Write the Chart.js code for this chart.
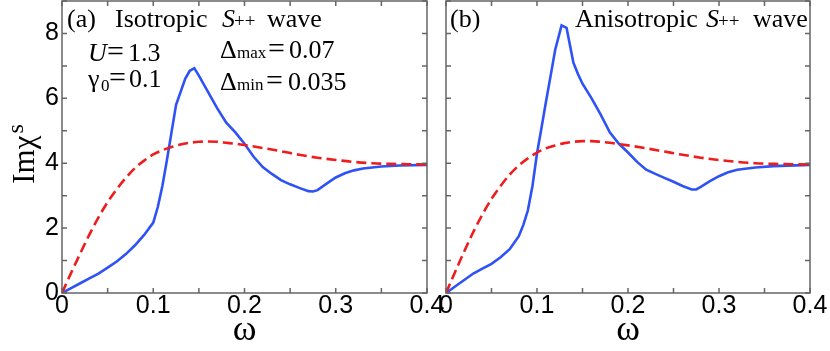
<!DOCTYPE html>
<html>
<head>
<meta charset="utf-8">
<script src="https://cdn.jsdelivr.net/npm/chart.js@4.4.0/dist/chart.umd.min.js"></script>
<style>
html, body { margin: 0; padding: 0; background: #fff; }
#wrap { position: relative; width: 830px; height: 351px; overflow: hidden; }
#chartA { position: absolute; left: 0; top: 0; }
#chartB { position: absolute; left: 430px; top: 0; }
</style>
</head>
<body>
<div id="wrap">
  <canvas id="chartA" width="445" height="351"></canvas>
  <canvas id="chartB" width="400" height="351"></canvas>
</div>
<script>
// axis ticks
const xTickValues = [0, 0.05, 0.1, 0.15, 0.2, 0.25, 0.3, 0.35, 0.4];
const xTickLabels = ['0', '', '0.1', '', '0.2', '', '0.3', '', '0.4'];
const yTickValues = [0, 1, 2, 3, 4, 5, 6, 7, 8, 9];
const yTickLabels = ['0', '', '2', '', '4', '', '6', '', '8', ''];

// (a) isotropic: blue solid
const omegaBlueA = [0, 0.01, 0.02, 0.03, 0.04, 0.05, 0.06, 0.07, 0.08, 0.09, 0.1, 0.105, 0.11, 0.115, 0.12, 0.125, 0.13, 0.135, 0.14, 0.145, 0.15, 0.16, 0.17, 0.18, 0.19, 0.2, 0.21, 0.22, 0.23, 0.24, 0.25, 0.26, 0.27, 0.275, 0.28, 0.29, 0.3, 0.31, 0.32, 0.33, 0.35, 0.37, 0.4];
const chiBlueA = [0, 0.15, 0.3, 0.45, 0.6, 0.78, 0.97, 1.2, 1.47, 1.79, 2.17, 2.65, 3.3, 4.1, 4.95, 5.8, 6.2, 6.6, 6.85, 6.93, 6.7, 6.2, 5.7, 5.25, 4.95, 4.6, 4.2, 3.88, 3.67, 3.48, 3.35, 3.24, 3.14, 3.13, 3.17, 3.37, 3.56, 3.69, 3.78, 3.84, 3.9, 3.93, 3.95];
// (a) red dashed
const omegaRedA = [0, 0.01, 0.02, 0.03, 0.04, 0.05, 0.06, 0.07, 0.08, 0.09, 0.1, 0.11, 0.12, 0.13, 0.14, 0.15, 0.16, 0.17, 0.18, 0.19, 0.2, 0.22, 0.24, 0.26, 0.28, 0.3, 0.32, 0.34, 0.36, 0.38, 0.4];
const chiRedA = [0, 0.62, 1.22, 1.8, 2.33, 2.8, 3.2, 3.55, 3.85, 4.08, 4.27, 4.4, 4.5, 4.58, 4.63, 4.66, 4.67, 4.66, 4.63, 4.6, 4.56, 4.47, 4.37, 4.26, 4.17, 4.1, 4.04, 4.0, 3.98, 3.97, 3.96];

// (b) anisotropic: blue solid
const omegaBlueB = [0, 0.01, 0.02, 0.03, 0.04, 0.05, 0.06, 0.07, 0.08, 0.085, 0.09, 0.095, 0.1, 0.105, 0.11, 0.115, 0.12, 0.127, 0.1325, 0.14, 0.145, 0.15, 0.16, 0.17, 0.18, 0.19, 0.2, 0.21, 0.22, 0.23, 0.24, 0.25, 0.26, 0.27, 0.275, 0.28, 0.29, 0.3, 0.31, 0.32, 0.34, 0.36, 0.4];
const chiBlueB = [0, 0.2, 0.4, 0.6, 0.75, 0.9, 1.1, 1.35, 1.75, 2.1, 2.55, 3.3, 4.3, 5.1, 5.92, 6.7, 7.5, 8.25, 8.17, 7.1, 6.75, 6.45, 6.0, 5.5, 4.95, 4.6, 4.33, 4.04, 3.8, 3.67, 3.55, 3.43, 3.3, 3.19, 3.19, 3.27, 3.45, 3.6, 3.72, 3.8, 3.87, 3.91, 3.95];
// (b) red dashed
const omegaRedB = [0, 0.01, 0.02, 0.03, 0.04, 0.05, 0.06, 0.07, 0.08, 0.09, 0.1, 0.11, 0.12, 0.13, 0.14, 0.15, 0.16, 0.17, 0.18, 0.19, 0.2, 0.22, 0.24, 0.26, 0.28, 0.3, 0.32, 0.34, 0.36, 0.38, 0.4];
const chiRedB = [0, 0.65, 1.28, 1.88, 2.42, 2.9, 3.3, 3.65, 3.93, 4.15, 4.33, 4.46, 4.55, 4.62, 4.66, 4.68, 4.68, 4.66, 4.63, 4.59, 4.55, 4.46, 4.36, 4.26, 4.17, 4.1, 4.04, 4.0, 3.98, 3.97, 3.96];

const SERIF = "'Liberation Serif', 'Times New Roman', serif";
const SANS = "'Liberation Sans', Arial, sans-serif";

function pts(xs, ys) {
  return xs.map((x, i) => ({ x: x, y: ys[i] }));
}

// text pieces for each panel: [text, x, y, font]
const notesA = [
  ['(a)', 67, 27, '26px ' + SERIF],
  ['Isotropic', 115, 27, '26px ' + SERIF],
  ['S', 222, 27, 'italic 26px ' + SERIF],
  ['++', 234, 27, '19px ' + SERIF],
  ['wave', 267, 27, '26px ' + SERIF],
  ['U', 88, 61, 'italic 26px ' + SERIF],
  ['=', 107, 61, '30px ' + SERIF],
  ['1.3', 128, 61, '26px ' + SERIF],
  ['\u03b3', 88, 87, '26px ' + SERIF],
  ['0', 101, 91, '17px ' + SERIF],
  ['=', 109, 87, '30px ' + SERIF],
  ['0.1', 129, 87, '26px ' + SERIF],
  ['\u0394', 220, 58, '26px ' + SERIF],
  ['max', 237, 58, '17px ' + SERIF],
  ['=', 268, 58, '30px ' + SERIF],
  ['0.07', 289, 58, '26px ' + SERIF],
  ['\u0394', 220, 90, '26px ' + SERIF],
  ['min', 237, 90, '17px ' + SERIF],
  ['=', 266, 90, '30px ' + SERIF],
  ['0.035', 288, 90, '26px ' + SERIF]
];
const notesB = [
  ['(b)', 450 - 430, 27, '26px ' + SERIF],
  ['Anisotropic', 575 - 430, 27, '26px ' + SERIF],
  ['S', 706 - 430, 27, 'italic 26px ' + SERIF],
  ['++', 718 - 430, 27, '19px ' + SERIF],
  ['wave', 753 - 430, 27, '26px ' + SERIF]
];

const framePlugin = {
  id: 'frame',
  afterDraw(chart, args, opts) {
    const ctx = chart.ctx;
    const a = chart.chartArea;
    const xs = chart.scales.x, ys = chart.scales.y;
    ctx.save();
    ctx.strokeStyle = '#666';
    ctx.lineWidth = 1.5;
    ctx.beginPath();
    xTickValues.forEach(v => {
      const px = xs.getPixelForValue(v);
      ctx.moveTo(px, a.bottom); ctx.lineTo(px, a.bottom - 5);
      ctx.moveTo(px, a.top); ctx.lineTo(px, a.top + 5);
    });
    yTickValues.forEach(v => {
      const py = ys.getPixelForValue(v);
      ctx.moveTo(a.left, py); ctx.lineTo(a.left + 5, py);
      ctx.moveTo(a.right, py); ctx.lineTo(a.right - 5, py);
    });
    ctx.stroke();
    ctx.strokeRect(a.left, a.top, a.width, a.height);

    ctx.fillStyle = '#000';
    ctx.textBaseline = 'alphabetic';
    ctx.textAlign = 'left';
    opts.notes.forEach(n => {
      ctx.font = n[3];
      ctx.fillText(n[0], n[1], n[2]);
    });

    // x axis title
    ctx.font = '36px ' + SERIF;
    ctx.textAlign = 'center';
    ctx.fillText('\u03c9', (a.left + a.right) / 2, 340);

    // y axis title
    if (opts.yTitle) {
      ctx.translate(34, 154);
      ctx.rotate(-Math.PI / 2);
      ctx.textAlign = 'left';
      ctx.font = '31px ' + SERIF;
      const main = 'Im\u03c7';
      const w = ctx.measureText(main).width;
      ctx.font = '24px ' + SERIF;
      const ws = ctx.measureText('s').width;
      const x0 = -(w + ws + 2) / 2;
      ctx.font = '31px ' + SERIF;
      ctx.fillText(main, x0, 0);
      ctx.font = '24px ' + SERIF;
      ctx.fillText('s', x0 + w + 2, -11);
    }
    ctx.restore();
  }
};

function makeChart(id, blue, red, yWidth, padRight, showY, notes) {
  return new Chart(document.getElementById(id), {
    type: 'line',
    data: {
      datasets: [
        {
          data: red,
          borderColor: '#ee1c1c',
          borderWidth: 2.6,
          borderDash: [10, 5],
          pointRadius: 0,
          tension: 0.3,
          cubicInterpolationMode: 'monotone'
        },
        {
          data: blue,
          borderColor: '#2f52f5',
          borderWidth: 2.6,
          pointRadius: 0,
          tension: 0
        }
      ]
    },
    options: {
      responsive: false,
      animation: false,
      layout: { padding: { left: 0, right: padRight, top: 1, bottom: 0 } },
      plugins: {
        legend: { display: false },
        tooltip: { enabled: false },
        frame: { notes: notes, yTitle: showY }
      },
      scales: {
        x: {
          type: 'linear',
          min: 0,
          max: 0.4,
          grid: { display: false, drawTicks: false },
          border: { display: false },
          afterBuildTicks: s => { s.ticks = xTickValues.map(v => ({ value: v })); },
          afterFit: s => { s.height = 58; s.paddingLeft = 0; s.paddingRight = 0; },
          ticks: {
            autoSkip: false,
            maxRotation: 0,
            padding: -2,
            color: '#000',
            font: { family: SANS, size: 25 },
            callback: (v, i) => xTickLabels[i]
          }
        },
        y: {
          type: 'linear',
          min: 0,
          max: 9,
          grid: { display: false, drawTicks: false },
          border: { display: false },
          afterBuildTicks: s => { s.ticks = yTickValues.map(v => ({ value: v })); },
          afterFit: s => { s.width = yWidth; s.paddingTop = 0; s.paddingBottom = 0; },
          ticks: {
            display: showY,
            autoSkip: false,
            padding: 3,
            color: '#000',
            font: { family: SANS, size: 25 },
            callback: (v, i) => yTickLabels[i]
          }
        }
      }
    },
    plugins: [framePlugin]
  });
}

makeChart('chartA', pts(omegaBlueA, chiBlueA), pts(omegaRedA, chiRedA), 62, 18, true, notesA);
makeChart('chartB', pts(omegaBlueB, chiBlueB), pts(omegaRedB, chiRedB), 16, 20, false, notesB);
</script>
</body>
</html>
